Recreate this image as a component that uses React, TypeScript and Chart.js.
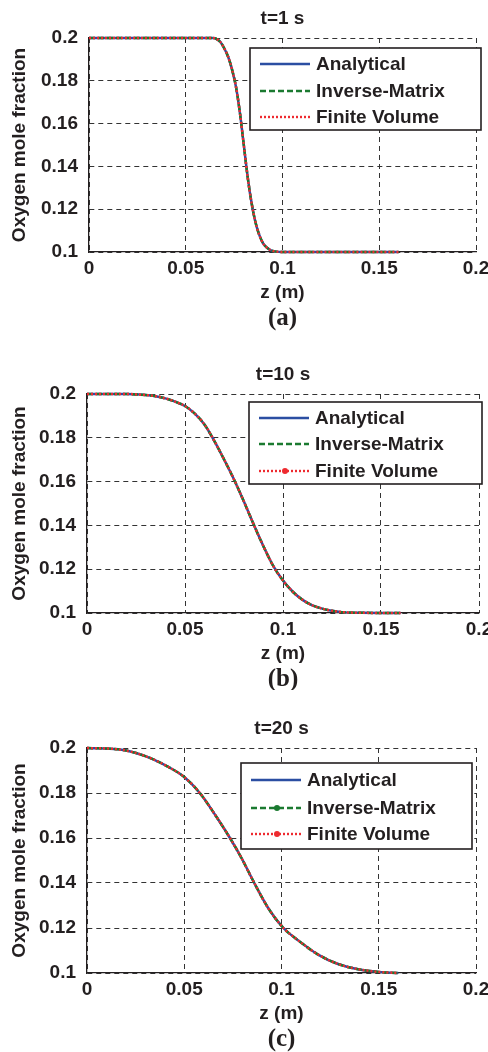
import React, { useEffect, useRef } from "react";
import { Chart, registerables } from "chart.js";

Chart.register(...registerables);

// ---------- data ----------
const xTickValues = [0, 0.05, 0.1, 0.15, 0.2];
const yTickValues = [0.1, 0.12, 0.14, 0.16, 0.18, 0.2];
const seriesLabels = ["Analytical", "Inverse-Matrix", "Finite Volume"];
const panelTitles = ["t=1 s", "t=10 s", "t=20 s"];
const panelTags = ["(a)", "(b)", "(c)"];
const xAxisTitle = "z (m)";
const yAxisTitle = "Oxygen mole fraction";

// t = 1 s
const z1 = [0, 0.03, 0.06, 0.064, 0.066, 0.068, 0.07, 0.072, 0.074, 0.076, 0.078, 0.08, 0.082, 0.084, 0.086, 0.088, 0.09, 0.092, 0.094, 0.096, 0.1, 0.13, 0.16];
const y1Analytical = [0.2, 0.2, 0.2, 0.2, 0.1995, 0.198, 0.195, 0.191, 0.185, 0.177, 0.165, 0.15, 0.135, 0.123, 0.114, 0.108, 0.104, 0.102, 0.1008, 0.1003, 0.1, 0.1, 0.1];
const y1InverseMatrix = [0.2, 0.2, 0.2, 0.2, 0.1995, 0.198, 0.195, 0.191, 0.185, 0.177, 0.165, 0.15, 0.135, 0.123, 0.114, 0.108, 0.104, 0.102, 0.1008, 0.1003, 0.1, 0.1, 0.1];
const y1FiniteVolume = [0.2, 0.2, 0.2, 0.2, 0.1995, 0.198, 0.195, 0.191, 0.185, 0.177, 0.165, 0.15, 0.135, 0.123, 0.114, 0.108, 0.104, 0.102, 0.1008, 0.1003, 0.1, 0.1, 0.1];

// t = 10 s
const z10 = [0, 0.02, 0.03, 0.035, 0.04, 0.045, 0.05, 0.055, 0.06, 0.065, 0.07, 0.075, 0.08, 0.085, 0.09, 0.095, 0.1, 0.105, 0.11, 0.115, 0.12, 0.125, 0.13, 0.14, 0.16];
const y10Analytical = [0.2, 0.2, 0.1995, 0.199, 0.198, 0.1965, 0.1945, 0.191, 0.186, 0.1785, 0.17, 0.161, 0.151, 0.1405, 0.1305, 0.1215, 0.1148, 0.1097, 0.106, 0.1035, 0.102, 0.101, 0.1004, 0.1001, 0.1];
const y10InverseMatrix = [0.2, 0.2, 0.1995, 0.199, 0.198, 0.1965, 0.1945, 0.191, 0.186, 0.1785, 0.17, 0.161, 0.151, 0.1405, 0.1305, 0.1215, 0.1148, 0.1097, 0.106, 0.1035, 0.102, 0.101, 0.1004, 0.1001, 0.1];
const y10FiniteVolume = [0.2, 0.2, 0.1995, 0.199, 0.198, 0.1965, 0.1945, 0.191, 0.186, 0.1785, 0.17, 0.161, 0.151, 0.1405, 0.1305, 0.1215, 0.1148, 0.1097, 0.106, 0.1035, 0.102, 0.101, 0.1004, 0.1001, 0.1];

// t = 20 s
const z20 = [0, 0.0161, 0.0247, 0.0332, 0.0418, 0.05, 0.058, 0.0661, 0.0735, 0.0795, 0.086, 0.0932, 0.101, 0.1086, 0.1188, 0.1291, 0.1394, 0.15, 0.16];
const y20Analytical = [0.2, 0.1994, 0.1979, 0.1953, 0.1916, 0.1871, 0.18, 0.17, 0.16, 0.151, 0.14, 0.1288, 0.12, 0.1145, 0.1082, 0.104, 0.1017, 0.1005, 0.1];
const y20InverseMatrix = [0.2, 0.1994, 0.1979, 0.1953, 0.1916, 0.1871, 0.18, 0.17, 0.16, 0.151, 0.14, 0.1288, 0.12, 0.1145, 0.1082, 0.104, 0.1017, 0.1005, 0.1];
const y20FiniteVolume = [0.2, 0.1994, 0.1979, 0.1953, 0.1916, 0.1871, 0.18, 0.17, 0.16, 0.151, 0.14, 0.1288, 0.12, 0.1145, 0.1082, 0.104, 0.1017, 0.1005, 0.1];

// ---------- styles ----------
const FONT = "'Liberation Sans', Arial, Helvetica, sans-serif";
const SERIF = "'Liberation Serif', 'Times New Roman', serif";
const TEXT = "#231f20";
const GRID = "#333333";
const FS = 19;
const LH = FS * 1.2;
const TAG_FS = 25;
const TAG_LH = 20;
const COLORS = ["#2b4ea2", "#1b7a30", "#ee2a2f"];
const DASHES: number[][] = [[], [6, 3], [2, 2]];
const W = 488;
const X_AXIS_H = 53;

type PanelLayout = {
  top: number;
  height: number;
  area: { l: number; r: number; t: number; b: number };
  legend: { x: number; y: number; w: number; h: number; rows: number[] };
  markers: boolean[];
};

const layouts: PanelLayout[] = [
  {
    top: 0,
    height: 340,
    area: { l: 89, r: 476, t: 38, b: 252 },
    legend: { x: 250, y: 48, w: 231, h: 82, rows: [16, 43, 69] },
    markers: [false, false, false],
  },
  {
    top: 340,
    height: 350,
    area: { l: 87, r: 479, t: 54, b: 273 },
    legend: { x: 249, y: 62, w: 233, h: 82, rows: [16, 42, 69] },
    markers: [false, false, true],
  },
  {
    top: 690,
    height: 362,
    area: { l: 87, r: 476, t: 58, b: 283 },
    legend: { x: 241, y: 73, w: 231, h: 86, rows: [17, 45, 71] },
    markers: [false, true, true],
  },
];

const panelData = [
  { z: z1, series: [y1Analytical, y1InverseMatrix, y1FiniteVolume] },
  { z: z10, series: [y10Analytical, y10InverseMatrix, y10FiniteVolume] },
  { z: z20, series: [y20Analytical, y20InverseMatrix, y20FiniteVolume] },
];

const fmt = (v: number | string) => String(+Number(v).toFixed(2));

function Panel({ index }: { index: number }) {
  const ref = useRef<HTMLCanvasElement>(null);
  useEffect(() => {
    if (!ref.current) return;
    const cfg = layouts[index];
    const d = panelData[index];
    const a = cfg.area;
    const titleGap = 19.5;
    const tickGap = 17;
    const xTitleGap = 40.5;
    const tagGap = 67;
    const tagPadTop = tagGap - X_AXIS_H - TAG_LH / 2;
    const padBottom = Math.max(0, cfg.height - (a.b + X_AXIS_H + tagPadTop + TAG_LH));

    const legendPlugin = {
      id: "boxLegend",
      afterDraw(chart: any) {
        const ctx = chart.ctx as CanvasRenderingContext2D;
        const L = cfg.legend;
        ctx.save();
        ctx.setLineDash([]);
        ctx.fillStyle = "#ffffff";
        ctx.fillRect(L.x, L.y, L.w, L.h);
        ctx.strokeStyle = TEXT;
        ctx.lineWidth = 1.6;
        ctx.strokeRect(L.x, L.y, L.w, L.h);
        chart.data.datasets.forEach((ds: any, i: number) => {
          const yy = L.y + L.rows[i];
          ctx.strokeStyle = ds.borderColor;
          ctx.lineWidth = 2.4;
          ctx.setLineDash(ds.borderDash || []);
          ctx.beginPath();
          ctx.moveTo(L.x + 10, yy);
          ctx.lineTo(L.x + 60, yy);
          ctx.stroke();
          if (cfg.markers[i]) {
            ctx.setLineDash([]);
            ctx.fillStyle = ds.borderColor;
            ctx.beginPath();
            ctx.arc(L.x + 36, yy, 3, 0, Math.PI * 2);
            ctx.fill();
          }
          ctx.fillStyle = TEXT;
          ctx.font = `bold ${FS}px ${FONT}`;
          ctx.textBaseline = "middle";
          ctx.textAlign = "left";
          ctx.fillText(ds.label, L.x + 66, yy + 1);
        });
        ctx.restore();
      },
    };

    const datasets = seriesLabels.map((label, i) => ({
      label,
      data: d.z.map((x, k) => ({ x, y: d.series[i][k] })),
      borderColor: COLORS[i],
      backgroundColor: COLORS[i],
      borderWidth: 2.5,
      borderDash: DASHES[i],
      pointRadius: 0,
      cubicInterpolationMode: "monotone",
      fill: false,
      order: 3 - i,
      clip: 6,
    }));

    const chart = new Chart(ref.current, {
      type: "line",
      data: { datasets },
      plugins: [legendPlugin],
      options: {
        responsive: false,
        animation: false,
        devicePixelRatio: 1,
        events: [],
        layout: {
          padding: {
            top: a.t - titleGap - LH / 2,
            right: W - a.r,
            bottom: padBottom,
            left: 0,
          },
        },
        plugins: {
          legend: { display: false },
          tooltip: { enabled: false },
          title: {
            display: true,
            text: panelTitles[index],
            fullSize: false,
            color: TEXT,
            font: { family: FONT, size: FS, weight: "bold", lineHeight: 1.2 },
            padding: { top: 0, bottom: titleGap - LH / 2 },
          },
          subtitle: {
            display: true,
            text: panelTags[index],
            position: "bottom",
            fullSize: false,
            color: TEXT,
            font: { family: SERIF, size: TAG_FS, weight: "bold", lineHeight: TAG_LH / TAG_FS },
            padding: { top: tagPadTop, bottom: 0 },
          },
        },
        scales: {
          x: {
            type: "linear",
            min: 0,
            max: 0.2,
            afterBuildTicks: (s: any) => {
              s.ticks = xTickValues.map((v) => ({ value: v }));
            },
            afterFit: (s: any) => {
              s.height = X_AXIS_H;
              s.paddingLeft = 0;
              s.paddingRight = 0;
            },
            ticks: {
              callback: (v: any) => fmt(v),
              color: TEXT,
              font: { family: FONT, size: FS, weight: "bold", lineHeight: 1.2 },
              padding: tickGap - LH / 2,
              maxRotation: 0,
              autoSkip: false,
            },
            grid: { color: GRID, lineWidth: 1, drawTicks: false },
            border: { display: true, color: TEXT, width: 1.3, dash: [5, 4] },
            title: {
              display: true,
              text: xAxisTitle,
              color: TEXT,
              font: { family: FONT, size: FS, weight: "bold", lineHeight: 1.2 },
              padding: { top: 0, bottom: X_AXIS_H - xTitleGap - LH / 2 },
            },
          },
          y: {
            type: "linear",
            min: 0.1,
            max: 0.2,
            afterBuildTicks: (s: any) => {
              s.ticks = yTickValues.map((v) => ({ value: v }));
            },
            afterFit: (s: any) => {
              s.width = a.l;
              s.paddingTop = 0;
              s.paddingBottom = 0;
            },
            ticks: {
              callback: (v: any) => fmt(v),
              color: TEXT,
              font: { family: FONT, size: FS, weight: "bold", lineHeight: 1.2 },
              padding: 11,
              autoSkip: false,
            },
            grid: { color: GRID, lineWidth: 1, drawTicks: false },
            border: { display: true, color: TEXT, width: 1.3, dash: [5, 4] },
            title: {
              display: true,
              text: yAxisTitle,
              color: TEXT,
              font: { family: FONT, size: FS, weight: "bold", lineHeight: 1.2 },
              padding: { top: 20 - LH / 2, bottom: 0 },
            },
          },
        },
      } as any,
    });
    return () => chart.destroy();
  }, [index]);

  const cfg = layouts[index];
  return (
    <canvas
      ref={ref}
      width={W}
      height={cfg.height}
      style={{ position: "absolute", left: 0, top: cfg.top, width: W, height: cfg.height, display: "block" }}
    />
  );
}

export default function App() {
  return (
    <div style={{ position: "absolute", left: 0, top: 0, width: W, height: 1052, background: "#ffffff", overflow: "hidden" }}>
      <Panel index={0} />
      <Panel index={1} />
      <Panel index={2} />
    </div>
  );
}
